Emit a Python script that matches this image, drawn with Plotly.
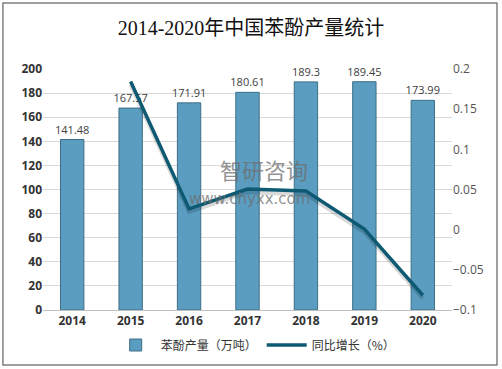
import plotly.graph_objects as go

years = ["2014", "2015", "2016", "2017", "2018", "2019", "2020"]
output = [141.48, 167.57, 171.91, 180.61, 189.3, 189.45, 173.99]
growth_years = ["2015", "2016", "2017", "2018", "2019", "2020"]
growth = [0.1844, 0.0259, 0.0506, 0.0481, 0.0008, -0.0816]
out_labels = ["141.48", "167.57", "171.91", "180.61", "189.3", "189.45", "173.99"]

fig = go.Figure()
fig.add_trace(go.Bar(
    x=years, y=output, name="苯酚产量（万吨）",
    text=out_labels, textposition="outside", constraintext="none",
    textfont=dict(size=11, color="#404040", family="Open Sans, Noto Sans CJK SC"),
    marker=dict(color="#5a9dc0", line=dict(color="#3d6f85", width=1)),
    cliponaxis=False,
))
# shadow line
fig.add_trace(go.Scatter(
    x=growth_years, y=[g - 0.004 for g in growth], yaxis="y2", mode="lines",
    line=dict(color="rgba(0,0,0,0.15)", width=4), showlegend=False, hoverinfo="skip",
))
fig.add_trace(go.Scatter(
    x=growth_years, y=growth, name="同比增长（%）", yaxis="y2", mode="lines",
    line=dict(color="#0f5a73", width=3.5),
))

fig.update_layout(
    width=502, height=369,
    margin=dict(l=43, r=50, t=69, b=59, autoexpand=False),
    paper_bgcolor="white", plot_bgcolor="white",
    title=dict(text="2014-2020年中国苯酚产量统计", x=0.5, xanchor="center", y=0.924, yanchor="middle",
               font=dict(family="Liberation Serif, Noto Sans CJK SC", size=20, color="#111")),
    bargap=0.6,
    xaxis=dict(showline=True, linecolor="#bfbfbf", linewidth=1, ticks="",
               tickfont=dict(size=12, color="#333", family="Open Sans, Noto Sans CJK SC", weight="bold")),
    yaxis=dict(range=[0, 200], dtick=20, showgrid=True, gridcolor="#d9d9d9", zeroline=False,
               tickfont=dict(size=12, color="#333", family="Open Sans", weight="bold")),
    yaxis2=dict(range=[-0.1, 0.2], dtick=0.05, overlaying="y", side="right", showgrid=False,
                zeroline=False, tickformat="~g",
                tickfont=dict(size=12, color="#555", family="Open Sans")),
    legend=dict(orientation="h", x=0.52, xanchor="center", yref="container", y=0.065, yanchor="middle",
                font=dict(size=12, color="#333", family="Noto Sans CJK SC"),
                itemwidth=40, traceorder="normal"),
    shapes=[dict(type="rect", xref="paper", yref="paper", x0=-0.098, x1=1.110, y0=-0.228, y1=1.274,
                 line=dict(color="#808080", width=1.5), layer="below")],
    annotations=[
        dict(text="智研咨询", x=0.540, y=0.585, xref="paper", yref="paper", showarrow=False,
             font=dict(size=22, color="rgba(110,110,110,0.75)", family="Noto Sans CJK SC")),
        dict(text="www.chyxx.com", x=0.506, y=0.462, xref="paper", yref="paper", showarrow=False,
             font=dict(size=15, color="rgba(110,110,110,0.75)", family="DejaVu Sans")),
    ],
)
fig.write_html("out.html", config={"displayModeBar": False},
               post_script="document.body.style.margin='0';document.body.style.overflow='hidden';")
